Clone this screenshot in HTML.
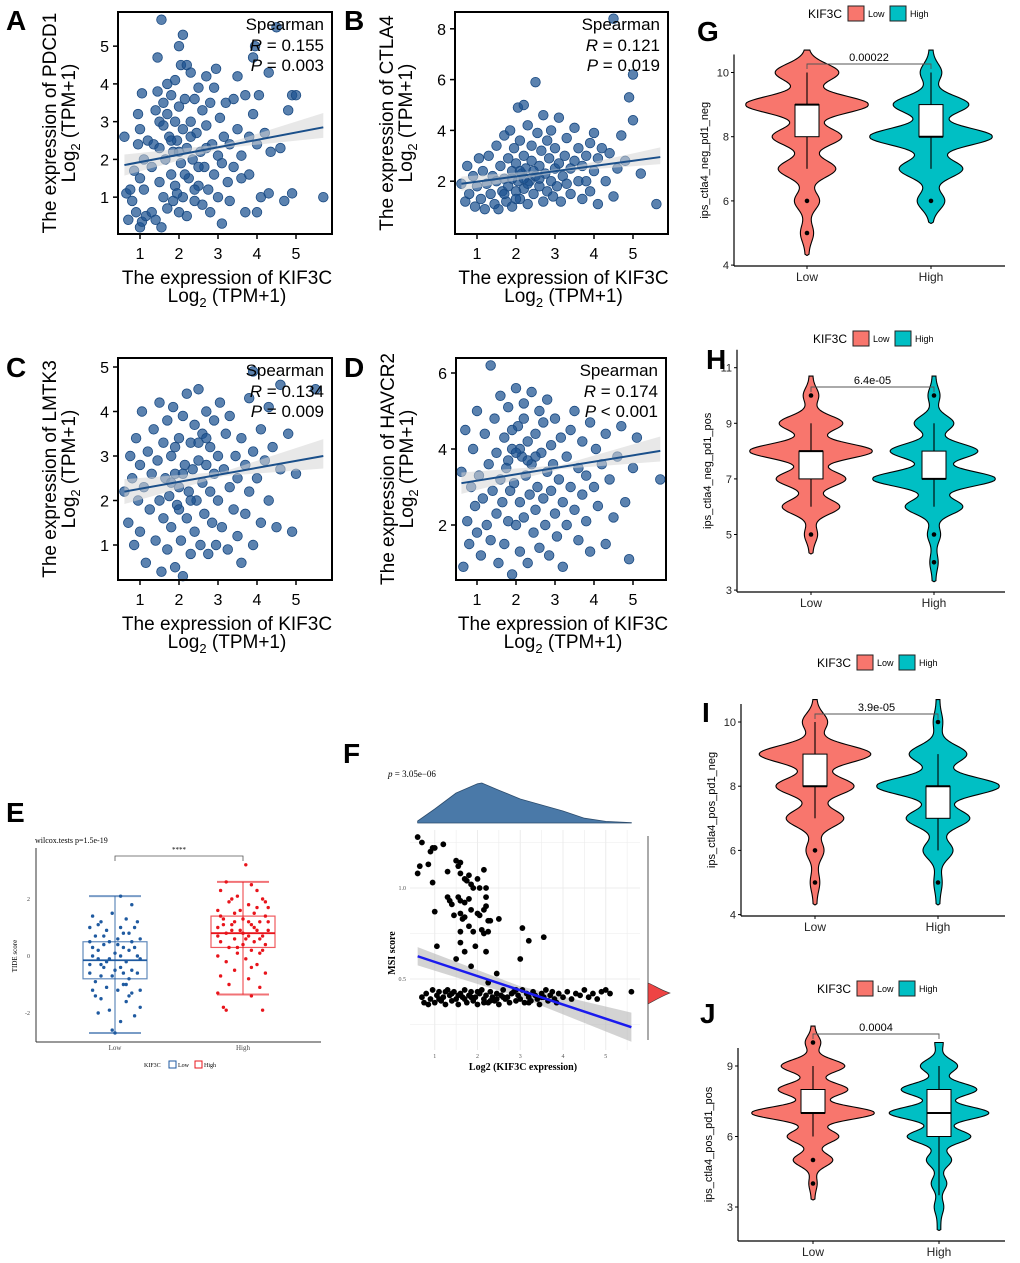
<!DOCTYPE html>
<html><head><meta charset="utf-8"><style>
html,body{margin:0;padding:0;background:#fff}
svg{display:block;font-family:"Liberation Sans",Arial,sans-serif}
.serif{font-family:"Liberation Serif",serif}
</style></head><body>
<svg id="fig" width="1020" height="1263" viewBox="0 0 1020 1263" xmlns="http://www.w3.org/2000/svg"></svg>
<script>
// ---------- DATA ----------
const ptsA=[[0.6,2.6],[0.65,1.1],[0.7,0.4],[0.75,1.2],[0.8,0.9],[0.85,1.7],[0.9,0.6],[0.95,3.2],[0.95,2.4],[1.0,2.8],[1.0,1.5],[1.0,0.2],[1.05,3.75],[1.05,0.35],[1.1,2.0],[1.1,1.2],[1.15,0.5],[1.2,2.5],[1.3,0.6],[1.3,1.8],[1.35,2.4],[1.4,3.3],[1.4,0.4],[1.45,4.7],[1.45,3.8],[1.5,3.0],[1.5,2.3],[1.5,1.4],[1.55,0.2],[1.6,3.5],[1.6,2.9],[1.6,1.0],[1.65,2.0],[1.7,4.0],[1.7,3.2],[1.7,0.7],[1.75,2.6],[1.8,1.6],[1.8,3.7],[1.85,2.2],[1.85,0.9],[1.9,4.1],[1.9,3.0],[1.9,1.3],[1.95,2.5],[2.0,3.4],[2.0,0.6],[2.0,5.0],[2.05,1.9],[2.05,4.5],[2.1,5.3],[2.1,2.8],[2.1,1.0],[2.15,3.6],[2.2,4.5],[2.2,2.3],[2.2,0.5],[2.25,1.5],[2.3,3.0],[2.3,4.3],[2.35,2.0],[2.4,3.6],[2.4,0.9],[2.45,2.7],[2.5,1.3],[2.5,3.9],[2.55,2.2],[2.6,0.8],[2.6,3.3],[2.65,1.8],[2.7,2.9],[2.7,4.2],[2.75,1.2],[2.8,3.5],[2.8,0.6],[2.85,2.4],[2.9,3.9],[2.9,1.6],[2.95,4.4],[3.0,2.1],[3.0,1.0],[3.05,3.1],[3.1,0.3],[3.1,1.9],[3.15,2.6],[3.2,3.5],[3.25,1.4],[3.3,2.4],[3.3,0.9],[3.4,3.6],[3.4,1.8],[3.5,2.8],[3.5,4.2],[3.6,2.1],[3.6,1.5],[3.7,3.7],[3.7,0.6],[3.8,2.6],[3.8,1.6],[3.9,3.2],[3.9,4.7],[4.0,2.4],[4.0,0.6],[4.05,3.7],[4.1,1.0],[4.2,2.7],[4.3,4.3],[4.3,1.1],[4.35,2.2],[4.6,2.3],[4.7,0.9],[4.8,3.3],[4.9,3.7],[4.9,1.1],[5.0,3.7],[5.7,1.0],[4.5,5.5],[1.55,5.7],[3.95,5.0],[1.8,2.5],[2.0,2.2],[2.3,2.6],[2.5,1.8],[2.15,1.6],[1.95,1.1],[2.4,1.2],[2.7,2.3]];
const ptsB=[[0.6,1.9],[0.7,1.2],[0.75,2.6],[0.8,1.5],[0.9,2.2],[0.95,1.0],[1.0,1.8],[1.05,2.9],[1.1,1.3],[1.15,2.4],[1.2,0.9],[1.25,1.9],[1.3,3.0],[1.35,1.5],[1.4,2.2],[1.45,1.1],[1.5,3.4],[1.5,2.0],[1.55,0.9],[1.6,2.6],[1.65,1.6],[1.7,3.8],[1.7,2.1],[1.75,1.2],[1.8,2.9],[1.8,1.8],[1.85,4.0],[1.9,2.4],[1.9,1.0],[1.95,3.3],[2.0,1.6],[2.0,2.7],[2.05,4.9],[2.05,2.0],[2.1,3.6],[2.1,1.3],[2.15,2.3],[2.2,5.0],[2.2,3.0],[2.2,1.7],[2.25,2.5],[2.3,4.2],[2.3,1.1],[2.35,2.0],[2.4,3.4],[2.4,2.8],[2.45,1.5],[2.5,5.9],[2.5,2.2],[2.55,3.9],[2.6,1.8],[2.6,2.6],[2.65,3.2],[2.7,1.2],[2.7,4.6],[2.75,2.3],[2.8,3.6],[2.8,1.6],[2.85,2.9],[2.9,2.0],[2.9,4.0],[2.95,1.4],[3.0,2.5],[3.0,3.3],[3.05,1.8],[3.1,2.7],[3.1,4.5],[3.15,1.2],[3.2,2.2],[3.25,3.0],[3.3,1.9],[3.3,3.7],[3.4,2.5],[3.4,1.5],[3.5,2.8],[3.5,4.1],[3.6,2.0],[3.6,3.3],[3.7,1.3],[3.7,2.6],[3.8,3.0],[3.8,2.0],[3.9,3.5],[3.9,1.6],[4.0,2.4],[4.0,3.9],[4.1,1.1],[4.1,2.9],[4.2,3.3],[4.3,2.0],[4.4,3.1],[4.5,1.4],[4.6,2.5],[4.8,2.8],[4.9,5.3],[5.0,4.4],[5.0,6.2],[4.7,3.8],[5.2,2.3],[5.6,1.1],[4.5,8.4],[1.9,2.1],[2.1,2.4],[2.3,1.9],[2.45,2.4],[2.0,1.3],[2.6,2.1],[1.7,1.5],[2.2,2.1]];
const ptsC=[[0.6,2.2],[0.7,1.5],[0.75,3.0],[0.8,2.5],[0.85,1.0],[0.9,3.4],[0.95,2.0],[1.0,2.8],[1.0,1.3],[1.05,4.0],[1.1,2.3],[1.15,0.6],[1.2,3.1],[1.25,1.8],[1.3,2.6],[1.35,3.6],[1.4,1.1],[1.45,2.9],[1.5,2.0],[1.5,4.2],[1.55,0.4],[1.6,3.3],[1.6,1.6],[1.65,2.5],[1.7,3.8],[1.7,0.9],[1.75,2.1],[1.8,3.0],[1.8,1.4],[1.85,4.1],[1.9,2.6],[1.9,0.5],[1.95,1.9],[2.0,3.4],[2.0,2.3],[2.05,1.1],[2.1,3.9],[2.1,0.3],[2.15,2.8],[2.2,1.6],[2.2,4.4],[2.25,2.2],[2.3,3.3],[2.3,0.8],[2.35,2.7],[2.4,1.3],[2.4,3.7],[2.45,2.0],[2.5,4.5],[2.5,2.9],[2.55,1.0],[2.6,2.4],[2.6,3.5],[2.65,1.7],[2.7,4.0],[2.7,2.8],[2.75,0.8],[2.8,2.2],[2.8,3.2],[2.85,1.5],[2.9,3.8],[2.9,2.6],[2.95,1.0],[3.0,3.0],[3.0,2.0],[3.05,4.2],[3.1,1.4],[3.15,2.7],[3.2,3.5],[3.25,0.9],[3.3,2.3],[3.3,3.9],[3.4,1.8],[3.45,3.0],[3.5,2.5],[3.5,1.2],[3.6,3.4],[3.6,0.6],[3.7,2.8],[3.7,1.7],[3.8,2.2],[3.8,4.3],[3.9,3.1],[3.9,1.0],[4.0,2.5],[4.1,3.6],[4.1,1.5],[4.2,2.9],[4.3,2.0],[4.3,4.1],[4.4,3.2],[4.5,1.4],[4.6,2.7],[4.8,3.5],[4.9,1.3],[5.0,2.6],[4.6,4.6],[5.5,4.5],[3.9,4.9],[1.9,3.2],[2.1,2.6],[2.3,2.0],[2.5,3.3],[1.8,2.4],[2.7,3.4],[2.0,1.8]];
const ptsD=[[0.6,3.4],[0.65,0.9],[0.7,4.5],[0.75,2.1],[0.8,1.5],[0.85,3.0],[0.9,4.0],[0.95,2.5],[1.0,1.8],[1.0,5.0],[1.05,3.3],[1.1,1.2],[1.15,2.7],[1.2,4.4],[1.25,2.0],[1.3,3.6],[1.35,1.6],[1.4,2.9],[1.45,4.8],[1.5,2.3],[1.5,3.9],[1.55,1.0],[1.6,3.2],[1.6,5.4],[1.65,2.6],[1.7,4.3],[1.7,1.5],[1.75,3.5],[1.8,2.1],[1.8,5.1],[1.85,2.9],[1.9,4.0],[1.9,0.7],[1.95,3.1],[2.0,2.0],[2.0,5.6],[2.05,4.6],[2.1,2.6],[2.1,1.3],[2.15,3.8],[2.2,5.2],[2.2,2.2],[2.25,3.3],[2.3,4.2],[2.3,1.0],[2.35,2.8],[2.4,5.5],[2.4,3.6],[2.45,1.8],[2.5,4.4],[2.5,2.4],[2.55,3.0],[2.6,5.0],[2.6,1.4],[2.65,3.9],[2.7,2.7],[2.7,4.7],[2.75,2.0],[2.8,3.4],[2.8,5.3],[2.85,1.2],[2.9,4.1],[2.9,2.9],[2.95,3.6],[3.0,2.3],[3.0,4.8],[3.05,1.7],[3.1,3.2],[3.15,4.3],[3.2,2.6],[3.2,0.9],[3.3,3.8],[3.3,2.0],[3.4,4.5],[3.4,3.0],[3.5,2.4],[3.5,5.0],[3.6,3.5],[3.6,1.6],[3.7,4.2],[3.7,2.8],[3.8,3.3],[3.8,2.1],[3.9,4.7],[3.9,1.3],[4.0,3.0],[4.05,4.0],[4.1,2.5],[4.2,3.6],[4.3,4.4],[4.3,1.5],[4.4,3.2],[4.5,2.2],[4.6,3.8],[4.7,4.6],[4.8,2.6],[4.9,1.1],[5.0,3.5],[5.1,4.3],[5.7,3.2],[1.35,6.2],[1.9,4.5],[2.1,4.0],[2.3,3.7],[2.0,3.9],[2.5,3.8],[1.8,3.7],[2.2,4.8]];
const lineA=[1.85,2.85], lineB=[1.9,2.95], lineC=[2.2,3.0], lineD=[3.1,3.95];
const lineXs=[0.6,5.7];
const scatterTicksX=[1,2,3,4,5];
const ticksYA=[1,2,3,4,5], ticksYB=[2,4,6,8], ticksYC=[1,2,3,4,5], ticksYD=[2,4,6];

const eLow=[[-0.8,1.4],[-0.5,1.2],[0.2,2.1],[0.6,1.8],[-0.9,1.0],[-0.3,0.9],[0.4,1.3],[0.8,1.2],[-0.7,0.7],[0.1,0.6],[0.5,0.8],[-0.9,0.5],[-0.4,0.4],[0.3,0.3],[0.9,0.6],[-0.6,0.2],[0.0,0.1],[0.7,0.3],[-0.8,0.0],[-0.2,-0.1],[0.4,-0.2],[0.9,-0.1],[-0.5,-0.3],[0.2,-0.4],[0.6,-0.5],[-0.9,-0.6],[-0.1,-0.7],[0.5,-0.8],[-0.7,-0.9],[0.3,-1.0],[0.8,-0.6],[-0.3,-1.1],[0.1,-1.2],[0.6,-1.3],[-0.8,-1.2],[-0.5,-1.5],[0.4,-1.6],[0.9,-1.8],[-0.2,-1.9],[0.7,-2.1],[-0.6,-2.0],[0.2,-2.3],[-0.1,-2.6],[0.0,-2.7],[-0.4,0.7],[0.2,1.0],[-0.6,1.1],[0.5,0.2],[-0.3,-0.2],[0.1,0.4],[-0.9,-0.3],[0.8,0.0],[0.3,-0.6],[-0.5,-0.7],[0.6,0.5],[-0.2,0.5],[0.4,-1.0],[-0.7,-1.4],[0.0,-0.5],[0.7,1.0],[-0.4,-0.4],[0.2,0.0],[-0.8,0.3],[0.9,-1.2],[-0.1,1.5],[0.5,-1.4],[-0.6,-0.1],[0.3,0.8]];
const eHigh=[[0.1,3.2],[-0.6,2.6],[0.3,2.5],[-0.8,2.3],[0.5,2.3],[-0.2,2.1],[0.7,2.0],[-0.5,1.9],[0.2,1.8],[0.9,1.7],[-0.9,1.6],[-0.3,1.5],[0.4,1.5],[0.8,1.4],[-0.7,1.3],[0.0,1.3],[0.6,1.2],[-0.4,1.1],[0.3,1.1],[-0.9,1.0],[-0.1,0.9],[0.5,0.9],[0.9,0.9],[-0.6,0.8],[0.2,0.7],[0.7,0.7],[-0.3,0.6],[0.4,0.5],[-0.8,0.5],[0.0,0.4],[0.8,0.4],[-0.5,0.3],[0.3,0.2],[-0.2,0.1],[0.6,0.1],[-0.9,0.0],[0.1,-0.1],[-0.6,-0.2],[0.5,-0.3],[-0.3,-0.5],[0.8,-0.6],[-0.8,-0.7],[0.2,-0.8],[-0.5,-1.0],[0.6,-1.1],[-0.9,-1.3],[0.3,-1.4],[-0.7,-1.8],[-0.6,-1.9],[0.7,-1.9],[-0.1,1.6],[0.4,1.0],[-0.4,0.9],[0.1,0.6],[-0.7,1.1],[0.9,1.2],[-0.2,0.3],[0.5,1.7],[-0.8,1.4],[0.2,1.2],[0.7,0.2],[-0.4,2.0],[0.0,0.8],[0.6,0.6],[-0.3,1.2],[0.3,-0.4],[-0.9,0.7],[0.8,1.9]];
const eBoxLow=[-2.7,-0.8,-0.15,0.5,2.1], eBoxHigh=[-1.35,0.3,0.8,1.4,2.6];
const eTicks=[-2,0,2];

const fUpper=[[0.6,1.28],[0.7,1.25],[0.65,1.12],[0.6,1.08],[0.85,1.13],[0.9,1.2],[0.95,1.22],[1.0,1.22],[1.2,1.24],[0.95,1.03],[1.0,0.87],[1.3,1.09],[1.5,1.15],[1.55,1.12],[1.6,1.14],[1.6,1.08],[1.7,1.05],[1.75,1.04],[1.8,1.07],[1.85,1.02],[1.9,1.0],[2.0,1.05],[2.05,1.0],[2.15,1.1],[2.2,1.0],[1.55,0.95],[1.6,0.93],[1.7,0.92],[1.8,0.94],[1.3,0.95],[1.35,0.93],[1.4,0.91],[1.45,0.85],[1.6,0.86],[1.65,0.83],[1.7,0.84],[1.85,0.88],[2.0,0.86],[2.05,0.85],[2.15,0.88],[2.2,0.9],[2.2,0.95],[2.25,0.82],[2.3,0.82],[2.5,0.83],[1.8,0.79],[1.6,0.76],[1.9,0.76],[2.1,0.77],[2.15,0.75],[2.25,0.76],[3.05,0.78],[3.2,0.71],[3.55,0.73],[1.05,0.68],[1.6,0.7],[1.7,0.65],[1.95,0.68],[2.2,0.65],[1.5,0.61],[1.85,0.57],[2.45,0.53],[3.0,0.61],[2.25,0.48]];
const fBand=[[0.8,0.42],[0.9,0.39],[0.95,0.44],[1.0,0.37],[1.05,0.41],[1.1,0.43],[1.15,0.38],[1.2,0.4],[1.25,0.36],[1.3,0.44],[1.35,0.41],[1.4,0.38],[1.45,0.43],[1.5,0.39],[1.55,0.36],[1.6,0.42],[1.65,0.4],[1.7,0.44],[1.75,0.37],[1.8,0.41],[1.85,0.43],[1.9,0.38],[1.95,0.4],[2.0,0.36],[2.05,0.42],[2.1,0.44],[2.15,0.39],[2.2,0.41],[2.25,0.37],[2.3,0.43],[2.35,0.4],[2.4,0.38],[2.45,0.42],[2.5,0.36],[2.55,0.41],[2.6,0.44],[2.65,0.39],[2.7,0.4],[2.75,0.37],[2.8,0.42],[2.85,0.43],[2.9,0.38],[2.95,0.41],[3.0,0.39],[3.05,0.44],[3.1,0.37],[3.15,0.42],[3.2,0.4],[3.25,0.38],[3.3,0.43],[3.35,0.41],[3.4,0.39],[3.45,0.36],[3.5,0.42],[3.55,0.4],[3.6,0.44],[3.65,0.38],[3.7,0.41],[3.75,0.43],[3.8,0.39],[3.85,0.37],[3.9,0.42],[4.0,0.4],[4.1,0.43],[4.2,0.39],[4.3,0.42],[4.4,0.41],[4.5,0.44],[4.6,0.4],[4.7,0.42],[4.8,0.39],[4.9,0.43],[5.0,0.44],[5.1,0.42],[5.6,0.43],[1.1,0.39],[1.4,0.42],[1.7,0.39],[2.0,0.43],[2.3,0.38],[2.6,0.4],[2.9,0.44],[3.2,0.37],[3.5,0.4],[0.85,0.36],[1.25,0.43],[1.55,0.41],[1.85,0.4],[2.15,0.37],[2.45,0.39],[0.7,0.4],[0.75,0.37]];
const fLine=[0.625,0.235], fLineX=[0.6,5.6];
const fDensX=[0.6,1.0,1.5,2.0,2.1,2.5,3.0,3.5,4.0,4.5,5.0,5.6];
const fDensY=[0.05,0.35,0.75,0.98,1.0,0.82,0.6,0.45,0.3,0.12,0.04,0.01];
const fTicksX=[1,2,3,4,5], fTicksY=[0.5,1.0];

const vLevels=[4,5,6,7,8,9,10];
const gLowW=[0.0,0.08,0.18,0.45,0.55,1.0,0.5], gHighW=[0.0,0.0,0.2,0.5,1.0,0.6,0.15];
const hLevels=[4,5,6,7,8,9,10];
const hLowW=[0.0,0.08,0.45,0.55,1.0,0.5,0.1], hHighW=[0.04,0.08,0.45,1.0,0.7,0.3,0.07];
const iLowW=[0.0,0.05,0.12,0.45,0.62,0.9,0.18], iHighW=[0.0,0.04,0.22,0.5,1.0,0.45,0.05];
const jLevels=[3,4,5,6,7,8,9,10];
const jLowW=[0.0,0.04,0.3,0.4,1.0,0.55,0.5,0.1], jHighW=[0.05,0.1,0.18,0.5,0.8,0.6,0.28,0.04];
const gBoxLow=[7,8,9,9,10], gBoxHigh=[7,8,8,9,10], gOutLow=[6,5], gOutHigh=[6];
const hBoxLow=[6,7,8,8,9], hBoxHigh=[6,7,7,8,9], hOutLow=[10,5], hOutHigh=[10,5,4];
const iBoxLow=[7,8,8,9,10], iBoxHigh=[6,7,8,8,9], iOutLow=[6,5], iOutHigh=[10,5];
const jBoxLow=[6,7,7,8,9], jBoxHigh=[3.5,6,7,8,9], jOutLow=[10,5,4], jOutHigh=[];
const gTicks=[4,6,8,10], hTicks=[3,5,7,9,11], iTicks=[4,6,8,10], jTicks=[3,6,9];

// ---------- HELPERS ----------
const S=document.getElementById('fig');
const NS=S.namespaceURI;
function mk(tag,attrs,name,parent){
  const el=document.createElementNS(NS,tag);
  for(const k in attrs) el.setAttribute(k,attrs[k]);
  
  
  (parent||S).appendChild(el);
  return el;
}
function txt(x,y,s,size,name,extra,parent){
  const a=Object.assign({x:x,y:y,'font-size':size,fill:'#000'},extra||{});
  const t=mk('text',a,name,parent); t.textContent=s; return t;
}
function letter(x,y,s){ txt(x,y,s,28,'panel-label-'+s.toLowerCase(),{'font-weight':'bold'}); }

// ---------- SCATTER PANELS ----------
function scatter(id,pts,box,xo,xk,yo,yk,line,ticksY,gene,R,P){
  const g=mk('g',{},'panel-'+id);
  const X=v=>xo+xk*v, Y=v=>yo-yk*v;
  const x1=lineXs[0],x2=lineXs[1],y1=line[0],y2=line[1];
  const xm=(x1+x2)/2, ym=(y1+y2)/2, hw=[0.28,0.05,0.28];
  const band=`M${X(x1)},${Y(y1+hw[0])} L${X(xm)},${Y(ym+hw[1])} L${X(x2)},${Y(y2+hw[2]+0.1)} L${X(x2)},${Y(y2-hw[2])} L${X(xm)},${Y(ym-hw[1])} L${X(x1)},${Y(y1-hw[0])} Z`;
  const grp=mk('g',{},'points-'+id,g);
  pts.forEach(p=>{ mk('circle',{cx:X(p[0]),cy:Y(p[1]),r:4.8,fill:'#1c5290','fill-opacity':0.72,stroke:'#1a4a82','stroke-width':0.8},'point',grp); });
  mk('path',{d:band,fill:'#d6d6d6','fill-opacity':0.55},'confidence-band',g);
  mk('line',{x1:X(x1),y1:Y(y1),x2:X(x2),y2:Y(y2),stroke:'#1a4f8a','stroke-width':2},'regression-line',g);
  mk('rect',{x:box[0],y:box[1],width:box[2]-box[0],height:box[3]-box[1],fill:'none',stroke:'#000','stroke-width':2},'plot-frame',g);
  scatterTicksX.forEach(t=>{ mk('line',{x1:X(t),x2:X(t),y1:box[3],y2:box[3]+5,stroke:'#000','stroke-width':1.5},'x-tick',g);
    txt(X(t),box[3]+25,String(t),16,'x-tick-label',{'text-anchor':'middle'},g);});
  ticksY.forEach(t=>{ mk('line',{x1:box[0]-5,x2:box[0],y1:Y(t),y2:Y(t),stroke:'#000','stroke-width':1.5},'y-tick',g);
    txt(box[0]-9,Y(t)+6,String(t),16,'y-tick-label',{'text-anchor':'end'},g);});
  const cx=(box[0]+box[2])/2;
  txt(cx+2,box[3]+50,'The expression of KIF3C',19,'x-axis-title',{'text-anchor':'middle'},g);
  const xt2=txt(cx+2,box[3]+68,'',19,'x-axis-title-units',{'text-anchor':'middle'},g);
  xt2.innerHTML='Log<tspan font-size="13" dy="5">2</tspan><tspan dy="-5"> (TPM+1)</tspan>';
  const cy=(box[1]+box[3])/2;
  txt(0,0,'The expression of '+gene,19,'y-axis-title',{'text-anchor':'middle',transform:`translate(${box[0]-62},${cy}) rotate(-90)`},g);
  const yt2=txt(0,0,'',19,'y-axis-title-units',{'text-anchor':'middle',transform:`translate(${box[0]-43},${cy}) rotate(-90)`},g);
  yt2.innerHTML='Log<tspan font-size="13" dy="5">2</tspan><tspan dy="-5"> (TPM+1)</tspan>';
  const r=box[2]-8;
  txt(r,box[1]+18,'Spearman',17,'stat-method',{'text-anchor':'end'},g);
  const t1=txt(r,box[1]+39,'',17,'stat-r',{'text-anchor':'end'},g);
  t1.innerHTML='<tspan font-style="italic">R</tspan> = '+R;
  const t2=txt(r,box[1]+59,'',17,'stat-p',{'text-anchor':'end'},g);
  t2.innerHTML='<tspan font-style="italic">P</tspan> '+P;
}
scatter('a',ptsA,[118,12,332,234],101,39,234.9,37.75,lineA,ticksYA,'PDCD1','0.155','= 0.003');
scatter('b',ptsB,[455,12,668,234],438,39,232,25.4,lineB,ticksYB,'CTLA4','0.121','= 0.019');
scatter('c',ptsC,[118,358,332,580],101,39,589.5,44.5,lineC,ticksYC,'LMTK3','0.134','= 0.009');
scatter('d',ptsD,[456,358,666,580],438,39,601,38,lineD,ticksYD,'HAVCR2','0.174','< 0.001');
letter(6,30,'A');letter(344,30,'B');letter(6,377,'C');letter(344,377,'D');

// ---------- PANEL E ----------
(function(){
  const g=mk('g',{class:'serif'},'panel-e');
  const Y=v=>956-28.5*v, cxs=[115,243], half=32;
  const cols=['#1f5aa0','#e8141b'];
  [eBoxLow,eBoxHigh].forEach((b,i)=>{
    const c=cxs[i], col=cols[i];
    mk('line',{x1:c,x2:c,y1:Y(b[0]),y2:Y(b[4]),stroke:col,'stroke-width':1.2,'stroke-opacity':0.7},'whisker',g);
    mk('line',{x1:c-half+6,x2:c+half-6,y1:Y(b[0]),y2:Y(b[0]),stroke:col,'stroke-width':2,'stroke-opacity':0.6},'whisker-cap',g);
    mk('line',{x1:c-half+6,x2:c+half-6,y1:Y(b[4]),y2:Y(b[4]),stroke:col,'stroke-width':2,'stroke-opacity':0.6},'whisker-cap',g);
    mk('rect',{x:c-half,y:Y(b[3]),width:half*2,height:Y(b[1])-Y(b[3]),fill:'none',stroke:col,'stroke-width':1.2,'stroke-opacity':0.7},'box',g);
    mk('line',{x1:c-half,x2:c+half,y1:Y(b[2]),y2:Y(b[2]),stroke:col,'stroke-width':1.8},'median',g);
  });
  [eLow,eHigh].forEach((arr,i)=>{ arr.forEach(p=>{ mk('circle',{cx:cxs[i]+p[0]*28,cy:Y(p[1]),r:1.7,fill:cols[i]},'point',g);});});
  mk('line',{x1:36,x2:36,y1:848,y2:1042,stroke:'#333','stroke-width':1},'y-axis',g);
  mk('line',{x1:36,x2:321,y1:1042,y2:1042,stroke:'#333','stroke-width':1},'x-axis',g);
  eTicks.forEach(t=>{ txt(30,Y(t)+2,String(t),6,'y-tick-label',{'text-anchor':'end',fill:'#444'},g);});
  txt(0,0,'TIDE score',7,'y-axis-title',{'text-anchor':'middle',transform:'translate(17,956) rotate(-90)'},g);
  txt(cxs[0],1050,'Low',7,'x-tick-label',{'text-anchor':'middle',fill:'#444'},g);
  txt(cxs[1],1050,'High',7,'x-tick-label',{'text-anchor':'middle',fill:'#444'},g);
  txt(35,843,'wilcox.tests p=1.5e-19',8,'test-label',{},g);
  mk('path',{d:`M${cxs[0]},861 L${cxs[0]},856 L${cxs[1]},856 L${cxs[1]},861`,fill:'none',stroke:'#555','stroke-width':0.8},'significance-bracket',g);
  txt(179,852,'****',7,'significance-stars',{'text-anchor':'middle'},g);
  txt(144,1067,'KIF3C',6,'legend-title',{},g);
  mk('rect',{x:169,y:1061,width:7,height:7,fill:'none',stroke:'#1f5aa0'},'legend-swatch-low',g);
  txt(178,1067,'Low',6,'legend-label-low',{},g);
  mk('rect',{x:195,y:1061,width:7,height:7,fill:'none',stroke:'#e8141b'},'legend-swatch-high',g);
  txt(204,1067,'High',6,'legend-label-high',{},g);
  letter(6,822,'E');
})();

// ---------- PANEL F ----------
(function(){
  const g=mk('g',{class:'serif'},'panel-f');
  const X=v=>392+42.75*v, Y=v=>888-182*(v-1.0);
  [0.75,1.25,0.25].concat(fTicksY).forEach(t=>{ mk('line',{x1:410,x2:640,y1:Y(t),y2:Y(t),stroke:'#ececec','stroke-width':t%0.5===0?1:0.6},'grid-y',g);});
  fTicksX.concat([1.5,2.5,3.5,4.5,5.5]).forEach(t=>{ mk('line',{x1:X(t),x2:X(t),y1:830,y2:1050,stroke:'#ececec','stroke-width':Number.isInteger(t)?1:0.6},'grid-x',g);});
  let d=`M${X(fDensX[0])},823`;
  fDensX.forEach((x,i)=>{ d+=` L${X(x)},${823-40*fDensY[i]}`; });
  d+=` L${X(fDensX[fDensX.length-1])},823 Z`;
  mk('path',{d:d,fill:'#4a79a8',stroke:'#2d4d6e','stroke-width':0.8,'stroke-linejoin':'round'},'top-density',g);
  mk('line',{x1:648,x2:648,y1:836,y2:1040,stroke:'#555','stroke-width':1},'right-density-baseline',g);
  mk('path',{d:`M648,983 C652,984 660,990 670,993 C660,997 652,1002 648,1004 Z`,fill:'#ee4444',stroke:'#333','stroke-width':0.6},'right-density',g);
  const x1=fLineX[0],x2=fLineX[1];
  const bp=`M${X(x1)},${Y(fLine[0]+0.05)} L${X(3)},${Y((fLine[0]+fLine[1])/2+0.03)} L${X(x2)},${Y(fLine[1]+0.08)} L${X(x2)},${Y(fLine[1]-0.08)} L${X(3)},${Y((fLine[0]+fLine[1])/2-0.03)} L${X(x1)},${Y(fLine[0]-0.05)} Z`;
  mk('path',{d:bp,fill:'#b5b5b5','fill-opacity':0.6},'confidence-band',g);
  fUpper.concat(fBand).forEach(p=>{ mk('circle',{cx:X(p[0]),cy:Y(p[1]),r:2.9,fill:'#000'},'point',g);});
  mk('line',{x1:X(x1),y1:Y(fLine[0]),x2:X(x2),y2:Y(fLine[1]),stroke:'#1a1aee','stroke-width':2.5},'regression-line',g);
  fTicksY.forEach(t=>{ txt(406,Y(t)+2,t.toFixed(1),6,'y-tick-label',{'text-anchor':'end',fill:'#555'},g);});
  fTicksX.forEach(t=>{ txt(X(t),1058,String(t),6,'x-tick-label',{'text-anchor':'middle',fill:'#555'},g);});
  txt(0,0,'MSI score',10,'y-axis-title',{'text-anchor':'middle','font-weight':'bold',transform:'translate(395,953) rotate(-90)'},g);
  txt(523,1070,'Log2 (KIF3C expression)',10,'x-axis-title',{'text-anchor':'middle','font-weight':'bold'},g);
  const pt=txt(388,777,'',9,'p-value',{},g); pt.innerHTML='<tspan font-style="italic">p</tspan> = 3.05e−06';
  letter(343,763,'F');
})();

// ---------- VIOLINS ----------
function violin(id,levels,lowW,highW,boxL,boxH,outL,outH,ticks,ax,bottom,yo,yk,cxL,cxH,bracketY,pval,title,legY,legX,range){
  const g=mk('g',{},'panel-'+id);
  const Y=v=>yo-yk*v;
  const W=60, sig=0.38;
  function wid(ws,v,lo,hi){
    let s=0; levels.forEach((c,i)=>{ s+=ws[i]*Math.exp(-Math.pow((v-c)/sig,2)); });
    if(v>lo && v<hi) s+=0.03;
    return s;
  }
  [[lowW,cxL,'#f8766d',range[0],range[1],'violin-low'],[highW,cxH,'#00bfc4',range[2],range[3],'violin-high']].forEach(a=>{
    const ws=a[0], c=a[1], lo=a[3], hi=a[4];
    const L=[],R=[];
    for(let v=lo; v<=hi+1e-9; v+=0.04){ const w=Math.min(1.02,wid(ws,v,lo,hi))*W; L.push(`${c-w},${Y(v)}`); R.push(`${c+w},${Y(v)}`); }
    mk('path',{d:'M'+R.join(' L')+' L'+L.reverse().join(' L')+' Z',fill:a[2],stroke:'#000','stroke-width':1.1},a[5],g);
  });
  [[boxL,cxL,outL],[boxH,cxH,outH]].forEach(a=>{
    const b=a[0],c=a[1];
    mk('line',{x1:c,x2:c,y1:Y(b[0]),y2:Y(b[4]),stroke:'#000','stroke-width':1.1},'whisker',g);
    mk('rect',{x:c-12,y:Y(b[3]),width:24,height:Y(b[1])-Y(b[3]),fill:'#fff',stroke:'#000','stroke-width':1},'box',g);
    mk('line',{x1:c-12,x2:c+12,y1:Y(b[2]),y2:Y(b[2]),stroke:'#000','stroke-width':2},'median',g);
    a[2].forEach(o=>{ mk('circle',{cx:c,cy:Y(o),r:2.3,fill:'#000'},'outlier',g);});
  });
  mk('path',{d:`M${cxL},${bracketY+5} L${cxL},${bracketY} L${cxH},${bracketY} L${cxH},${bracketY+5}`,fill:'none',stroke:'#555','stroke-width':0.9},'significance-bracket',g);
  txt((cxL+cxH)/2,bracketY-3,pval,11,'p-value',{'text-anchor':'middle'},g);
  const top=Y(ticks[ticks.length-1])-18;
  mk('line',{x1:ax,x2:ax,y1:top,y2:bottom,stroke:'#000','stroke-width':1.2},'y-axis',g);
  mk('line',{x1:ax,x2:1005,y1:bottom,y2:bottom,stroke:'#000','stroke-width':1.2},'x-axis',g);
  ticks.forEach(t=>{ mk('line',{x1:ax-3,x2:ax,y1:Y(t),y2:Y(t),stroke:'#000'},'y-tick',g);
    txt(ax-5,Y(t)+4,String(t),11,'y-tick-label',{'text-anchor':'end',fill:'#222'},g);});
  [[cxL,'Low'],[cxH,'High']].forEach(a=>{ mk('line',{x1:a[0],x2:a[0],y1:bottom,y2:bottom+3,stroke:'#000'},'x-tick',g);
    txt(a[0],bottom+15,a[1],12,'x-tick-label',{'text-anchor':'middle',fill:'#222'},g);});
  txt(0,0,title,11,'y-axis-title',{'text-anchor':'middle',transform:`translate(${ax-26},${(top+bottom)/2}) rotate(-90)`},g);
  txt(legX,legY+5,'KIF3C',12,'legend-title',{},g);
  mk('rect',{x:legX+40,y:legY-7,width:16,height:15,fill:'#f8766d',stroke:'#222'},'legend-swatch-low',g);
  txt(legX+60,legY+4,'Low',9,'legend-label-low',{},g);
  mk('rect',{x:legX+82,y:legY-7,width:16,height:15,fill:'#00bfc4',stroke:'#222'},'legend-swatch-high',g);
  txt(legX+102,legY+4,'High',9,'legend-label-high',{},g);
}
violin('g',vLevels,gLowW,gHighW,gBoxLow,gBoxHigh,gOutLow,gOutHigh,gTicks,734,266,393.5,32.1,807,931,64,'0.00022','ips_ctla4_neg_pd1_neg',13,808,[4.3,10.7,5.3,10.7]);
violin('h',hLevels,hLowW,hHighW,hBoxLow,hBoxHigh,hOutLow,hOutHigh,hTicks,737,592,673.5,27.8,811,934,387,'6.4e-05','ips_ctla4_neg_pd1_pos',338,813,[4.3,10.7,3.3,10.7]);
violin('i',vLevels,iLowW,iHighW,iBoxLow,iBoxHigh,iOutLow,iOutHigh,iTicks,741,916,1043,32.1,815,938,714,'3.9e-05','ips_ctla4_pos_pd1_neg',662,817,[4.3,10.7,4.3,10.7]);
violin('j',jLevels,jLowW,jHighW,jBoxLow,jBoxHigh,jOutLow,jOutHigh,jTicks,738,1241,1277.5,23.5,813,939,1034,'0.0004','ips_ctla4_pos_pd1_pos',988,817,[3.3,10.7,2.0,10.0]);
letter(697,41,'G');letter(706,369,'H');
txt(702,722,'I',28,'panel-label-i',{'font-weight':'bold'});
letter(700,1023,'J');
</script>
</body></html>
